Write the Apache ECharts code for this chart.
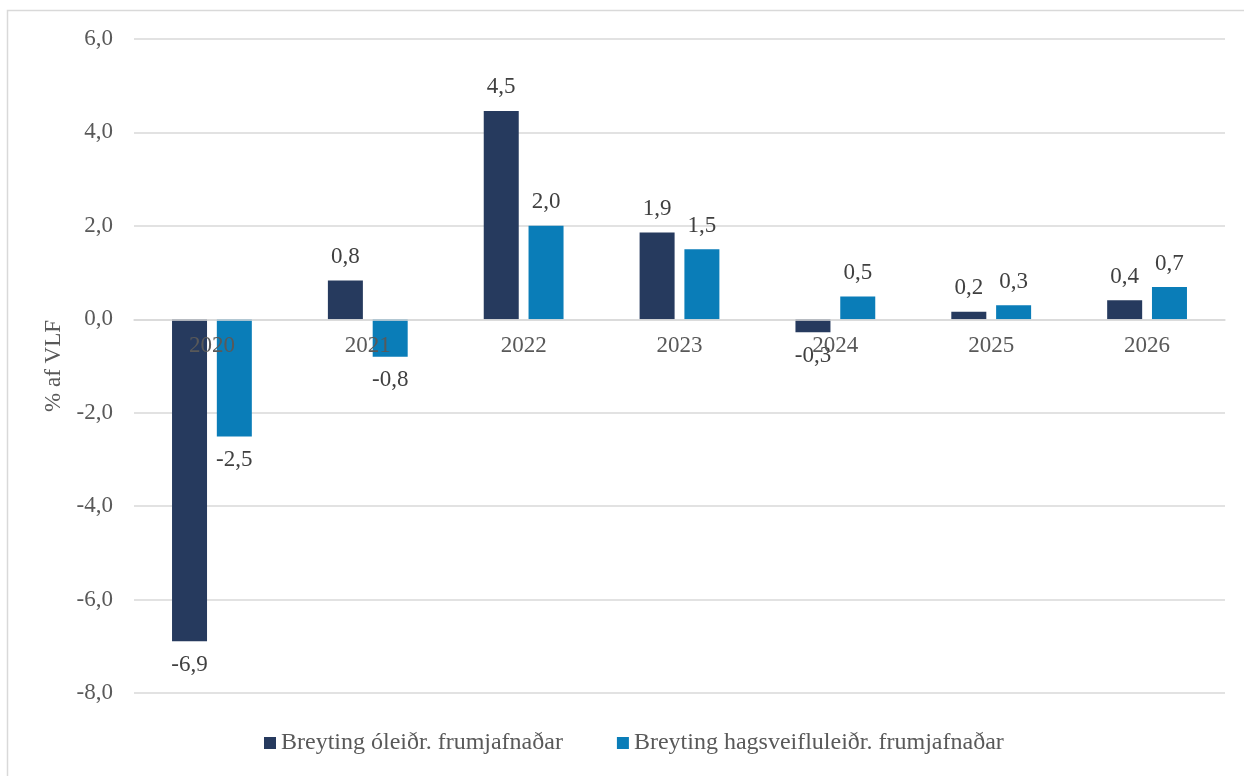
<!DOCTYPE html>
<html>
<head>
<meta charset="utf-8">
<script src="https://cdn.jsdelivr.net/npm/echarts@6/dist/echarts.min.js"></script>
<style>
  html, body { margin: 0; padding: 0; background: #fff; }
  #chart { width: 1244px; height: 776px; }
</style>
</head>
<body>
<div id="chart"></div>
<script>
var years = ['2020', '2021', '2022', '2023', '2024', '2025', '2026'];
var oleidr = [-6.89, 0.83, 4.46, 1.86, -0.28, 0.16, 0.41];
var hagsveiflu = [-2.51, -0.80, 2.0, 1.5, 0.49, 0.3, 0.69];
var seriesNames = ['Breyting óleiðr. frumjafnaðar', 'Breyting hagsveifluleiðr. frumjafnaðar'];
var yMin = -8, yMax = 6, yStep = 2;

var font = '"Liberation Serif", "Times New Roman", serif';
var fmt = function (v) { return v.toFixed(1).replace('.', ','); };

var myChart = echarts.init(document.getElementById('chart'));

var gridTop = 39, gridBottom = 83;
var plotH = 776 - gridTop - gridBottom;
// category axis sits on the zero line
var zeroOffset = -plotH * (0 - yMin) / (yMax - yMin);

var makeSeries = function (name, data, color) {
    return {
        name: name,
        type: 'bar',
        barWidth: 35,
        barGap: '28%',
        itemStyle: { color: color },
        label: {
            show: true,
            position: 'top',
            distance: 12,
            fontFamily: font,
            fontSize: 23,
            color: '#404040',
            formatter: function (p) { return fmt(p.value); }
        },
        // negative values get their label underneath the bar
        data: data.map(function (v) {
            return v < 0 ? { value: v, label: { position: 'bottom' } } : v;
        })
    };
};

var option = {
    backgroundColor: '#fff',
    animation: false,
    textStyle: { fontFamily: font },
    graphic: [{
        type: 'rect',
        shape: { x: 7.5, y: 10.5, width: 1260, height: 800 },
        style: { fill: 'none', stroke: '#d9d9d9', lineWidth: 1.5 },
        silent: true
    }],
    grid: { left: 134, right: 19, top: gridTop, bottom: gridBottom },
    legend: {
        bottom: 16,
        left: 259,
        itemWidth: 12,
        itemHeight: 12,
        itemGap: 54,
        icon: 'rect',
        textStyle: { fontFamily: font, fontSize: 24, color: '#595959' },
        data: seriesNames
    },
    xAxis: {
        type: 'category',
        data: years,
        z: 5,
        offset: zeroOffset,
        axisLine: { onZero: false, lineStyle: { color: '#d9d9d9', width: 1.5 } },
        axisTick: { show: false },
        axisLabel: { fontFamily: font, fontSize: 23, color: '#595959', margin: 15 }
    },
    yAxis: {
        type: 'value',
        min: yMin,
        max: yMax,
        interval: yStep,
        name: '% af VLF',
        nameLocation: 'middle',
        nameGap: 66,
        nameTextStyle: { fontFamily: font, fontSize: 23, color: '#595959' },
        axisLine: { show: false },
        axisTick: { show: false },
        splitLine: { lineStyle: { color: '#d9d9d9', width: 1.5 } },
        axisLabel: {
            fontFamily: font, fontSize: 23, color: '#595959', margin: 21,
            formatter: function (v) { return fmt(v); }
        }
    },
    series: [
        makeSeries(seriesNames[0], oleidr, '#263A5E'),
        makeSeries(seriesNames[1], hagsveiflu, '#0A7DB8')
    ]
};
myChart.setOption(option);
</script>
</body>
</html>
